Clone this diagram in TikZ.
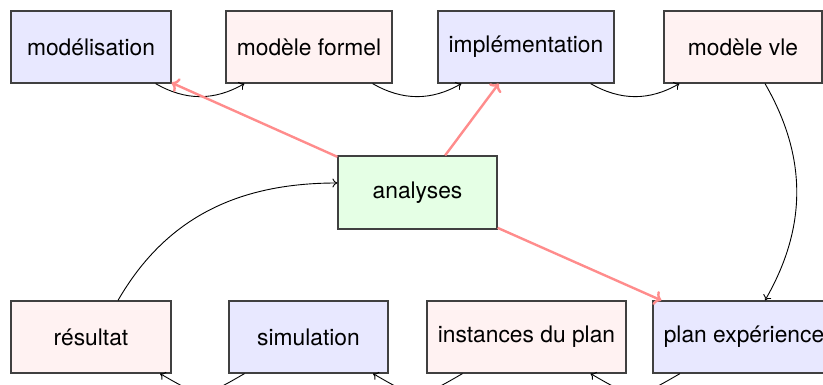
\documentclass[tikz,border=0pt]{standalone}
\usepackage{fontspec}
\setmainfont{TeX Gyre Heros}
\usetikzlibrary{arrows.meta}
\begin{document}
\begin{tikzpicture}[x=1pt,y=1pt,
  box/.style={draw=black!75, line width=1.2pt, minimum height=72pt, inner sep=0pt,
    font=\fontsize{22.8}{27}\selectfont},
  bluebox/.style={box, fill=blue!9},
  pinkbox/.style={box, fill=red!5},
  greenbox/.style={box, fill=green!10},
  flow/.style={draw=black, line width=0.9pt, -{To[length=5pt,width=9pt]}},
  hot/.style={draw=red!45, line width=2.4pt, -{To[length=7pt,width=15pt]}},
]
\useasboundingbox (0,0) rectangle (823,385);
\node[bluebox, minimum width=160pt] (mod) at (91,338) {modélisation};
\node[pinkbox, minimum width=166pt] (formel) at (309,338) {modèle formel};
\node[bluebox, minimum width=176pt] (impl) at (526,338) {implémentation};
\node[pinkbox, minimum width=158pt] (vle) at (743,338) {modèle vle};
\node[greenbox, minimum width=159pt, minimum height=73pt] (ana) at (417.5,192.5) {analyses};
\node[pinkbox, minimum width=160pt] (res) at (91,48) {résultat};
\node[bluebox, minimum width=159pt] (sim) at (308.5,48) {simulation};
\node[pinkbox, minimum width=199pt] (inst) at (526.5,48) {instances du plan};
\node[bluebox, minimum width=182pt] (plan) at (744,48) {plan expérience};

\draw[flow] ([xshift=-16pt]mod.south east) to[out=-30,in=-150] ([xshift=19pt]formel.south west);
\draw[flow] ([xshift=-20pt]formel.south east) to[out=-30,in=-150] ([xshift=24pt]impl.south west);
\draw[flow] ([xshift=-24pt]impl.south east) to[out=-30,in=-150] ([xshift=16pt]vle.south west);
\draw[flow] ([xshift=22pt]vle.south) to[out=-60,in=60] ([xshift=21pt]plan.north);
\draw[flow] ([xshift=-64pt]plan.south) to[out=-150,in=-30,looseness=1.5] ([xshift=64pt]inst.south);
\draw[flow] ([xshift=-64pt]inst.south) to[out=-150,in=-30,looseness=1.5] ([xshift=64.5pt]sim.south);
\draw[flow] ([xshift=-64pt]sim.south) to[out=-150,in=-30,looseness=1.5] ([xshift=69pt]res.south);
\draw[flow] ([xshift=27pt]res.north) to[out=60,in=180] ([yshift=9.5pt]ana.west);

\draw[hot] (ana) -- (mod);
\draw[hot] (ana) -- (impl);
\draw[hot] (ana) -- (plan);
\end{tikzpicture}
\end{document}
